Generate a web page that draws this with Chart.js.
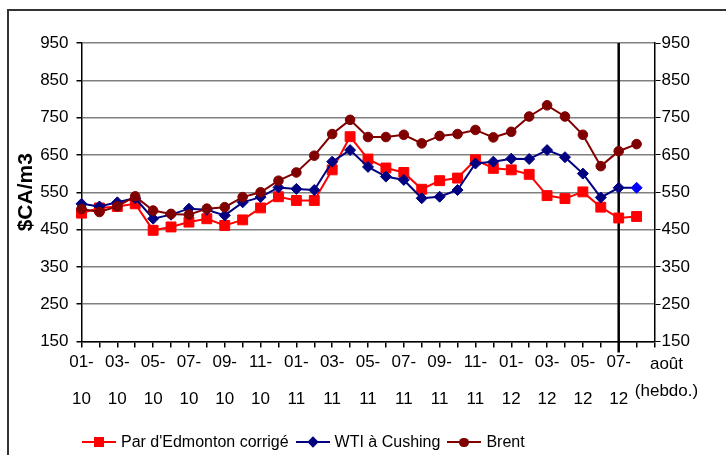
<!DOCTYPE html>
<html>
<head>
<meta charset="utf-8">
<script src="https://cdn.jsdelivr.net/npm/chart.js@4"></script>
<style>
    html, body { margin: 0; padding: 0; background: #fff; }
    #wrap { position: relative; width: 726px; height: 455px; overflow: hidden; }
    #frame { position: absolute; left: 7px; top: 9px; width: 800px; height: 600px; border: 2px solid #333; }
    #chart { position: absolute; left: 0; top: 0; }
    #legend { position: absolute; left: 82px; top: 433px; display: flex; gap: 7px;
              font: 16px "Liberation Sans", Arial, sans-serif; color: #000; }
    .item { display: flex; align-items: center; height: 18px; }
    .key { position: relative; width: 34px; height: 14px; margin-right: 5px; }
    .key .ln { position: absolute; left: 0; right: 0; top: 6px; height: 2px; }
    .key .mk { position: absolute; }
</style>
</head>
<body>
<div id="wrap">
    <div id="frame"></div>
    <canvas id="chart" width="726" height="455"></canvas>
    <div id="legend"></div>
</div>
<script>
// monthly averages Jan 2010 .. Jul 2012, then the August weekly value
const monthLabels = [
    "01-10", "02-10", "03-10", "04-10", "05-10", "06-10", "07-10", "08-10", "09-10", "10-10", "11-10", "12-10",
    "01-11", "02-11", "03-11", "04-11", "05-11", "06-11", "07-11", "08-11", "09-11", "10-11", "11-11", "12-11",
    "01-12", "02-12", "03-12", "04-12", "05-12", "06-12", "07-12"
];
const weeklyLabel = "août (hebdo.)";
const categories = monthLabels.concat([weeklyLabel, ""]);

const edmonton = [494, 508, 512, 519, 448, 457, 470, 479, 461, 476, 508, 538,
                  528, 528, 610, 699, 639, 615, 603, 558, 581, 588, 637, 614,
                  610, 598, 541, 533, 551, 510, 481, 485, null];
const wti = [519, 512, 523, 534, 479, 490, 506, 503, 488, 523, 537, 563,
             559, 556, 632, 663, 618, 592, 583, 534, 538, 556, 627, 632,
             640, 639, 663, 644, 600, 536, 562, 562, null];
const brent = [505, 497, 512, 539, 501, 492, 490, 506, 510, 537, 550, 581,
               603, 648, 706, 744, 698, 698, 704, 681, 701, 706, 717, 697,
               712, 753, 783, 753, 704, 620, 660, 679, null];

const yTicks = { min: 150, max: 950, step: 100 };
const lastMonthIndex = monthLabels.length - 1;

const FONT = "'Liberation Sans', Arial, sans-serif";
const RED = "#FF0000";
const NAVY = "#000080";
const MAROON = "#800000";
const WEEKLY_BLUE = "#0000FF";

const series = [
    { label: "Par d'Edmonton corrigé", data: edmonton, color: RED, style: "rect", radius: 7, order: 3 },
    { label: "WTI à Cushing", data: wti, color: NAVY, style: "rectRot", radius: 5.5, order: 2 },
    { label: "Brent", data: brent, color: MAROON, style: "circle", radius: 4.8, order: 1 }
];

const datasets = series.map(function (s) {
    let fill = s.color;
    if (s.data === wti) {
        // the weekly point is shown in a lighter blue
        fill = wti.map(function (v, i) { return i > lastMonthIndex ? WEEKLY_BLUE : NAVY; });
    }
    return {
        label: s.label,
        data: s.data,
        order: s.order,
        borderColor: s.color,
        backgroundColor: s.color,
        borderWidth: 2,
        pointStyle: s.style,
        pointRadius: s.radius,
        pointBackgroundColor: fill,
        pointBorderColor: fill,
        pointBorderWidth: 1,
        tension: 0
    };
});

const markerLine = {
    id: "markerLine",
    beforeDatasetsDraw: function (chart) {
        const ctx = chart.ctx;
        const x = chart.scales.x.getPixelForValue(lastMonthIndex);
        ctx.save();
        ctx.strokeStyle = "#000";
        ctx.lineWidth = 2.5;
        ctx.beginPath();
        ctx.moveTo(x, chart.chartArea.top);
        ctx.lineTo(x, chart.chartArea.bottom + 11);
        ctx.stroke();
        ctx.restore();
    },
    afterDraw: function (chart) {
        const ctx = chart.ctx;
        const x = chart.scales.x.getPixelForValue(categories.length - 1) + 12;
        const y = chart.chartArea.bottom;
        const parts = weeklyLabel.split(" ");
        ctx.save();
        ctx.fillStyle = "#000";
        ctx.font = "17px " + FONT;
        ctx.textAlign = "center";
        ctx.textBaseline = "middle";
        ctx.fillText(parts[0], x, y + 22.5);
        ctx.fillText(parts[1], x, y + 49.5);
        ctx.restore();
    }
};

new Chart(document.getElementById("chart"), {
    type: "line",
    data: { labels: categories, datasets: datasets },
    plugins: [markerLine],
    options: {
        responsive: false,
        animation: false,
        layout: { padding: { top: 43, left: 0, right: 0, bottom: 0 } },
        plugins: { legend: { display: false }, tooltip: { enabled: false } },
        scales: {
            x: {
                type: "category",
                offset: false,
                grid: { drawOnChartArea: false, color: "#000", lineWidth: 1.5, tickLength: 6 },
                border: { color: "#000", width: 1.5 },
                ticks: {
                    autoSkip: false,
                    maxRotation: 0,
                    color: "#000",
                    padding: -3,
                    font: { family: FONT, size: 17, lineHeight: 2.15 },
                    callback: function (value, index) {
                        if (index <= lastMonthIndex && index % 2 === 0) {
                            const p = monthLabels[index].split("-");
                            return [p[0] + "-", p[1]];
                        }
                        return "";
                    }
                },
                afterFit: function (scale) { scale.height = 113.5; }
            },
            y: {
                position: "left",
                min: yTicks.min,
                max: yTicks.max,
                grid: { color: "#808080", lineWidth: 1.5, tickColor: "#000", tickLength: 5 },
                border: { color: "#000", width: 1.5 },
                ticks: { stepSize: yTicks.step, color: "#000", padding: 8, font: { family: FONT, size: 17 } },
                title: {
                    display: true,
                    text: "$CA/m3",
                    color: "#000",
                    font: { family: FONT, size: 21, weight: "bold", lineHeight: 1.2 },
                    padding: { top: 14, bottom: 0 }
                },
                afterFit: function (scale) { scale.width = 81.5; }
            },
            y2: {
                position: "right",
                min: yTicks.min,
                max: yTicks.max,
                grid: { drawOnChartArea: false, color: "#000", tickLength: 6 },
                border: { color: "#000", width: 1.5 },
                ticks: { stepSize: yTicks.step, color: "#000", padding: 1, font: { family: FONT, size: 17 } },
                afterFit: function (scale) { scale.width = 71.5; }
            }
        }
    }
});

// legend: line with the series marker, then the name
const legend = document.getElementById("legend");
series.forEach(function (s) {
    const item = document.createElement("div");
    item.className = "item";
    let mk;
    if (s.style === "rect") {
        mk = "left:12px;top:2px;width:10px;height:10px;background:" + s.color;
    } else if (s.style === "rectRot") {
        mk = "left:13px;top:3px;width:8px;height:8px;background:" + s.color + ";transform:rotate(45deg)";
    } else {
        mk = "left:12px;top:2.5px;width:9.5px;height:9.5px;border-radius:50%;background:" + s.color;
    }
    item.innerHTML = '<span class="key"><span class="ln" style="background:' + s.color + '"></span>' +
        '<span class="mk" style="' + mk + '"></span></span><span></span>';
    item.lastChild.textContent = s.label;
    legend.appendChild(item);
});
</script>
</body>
</html>
